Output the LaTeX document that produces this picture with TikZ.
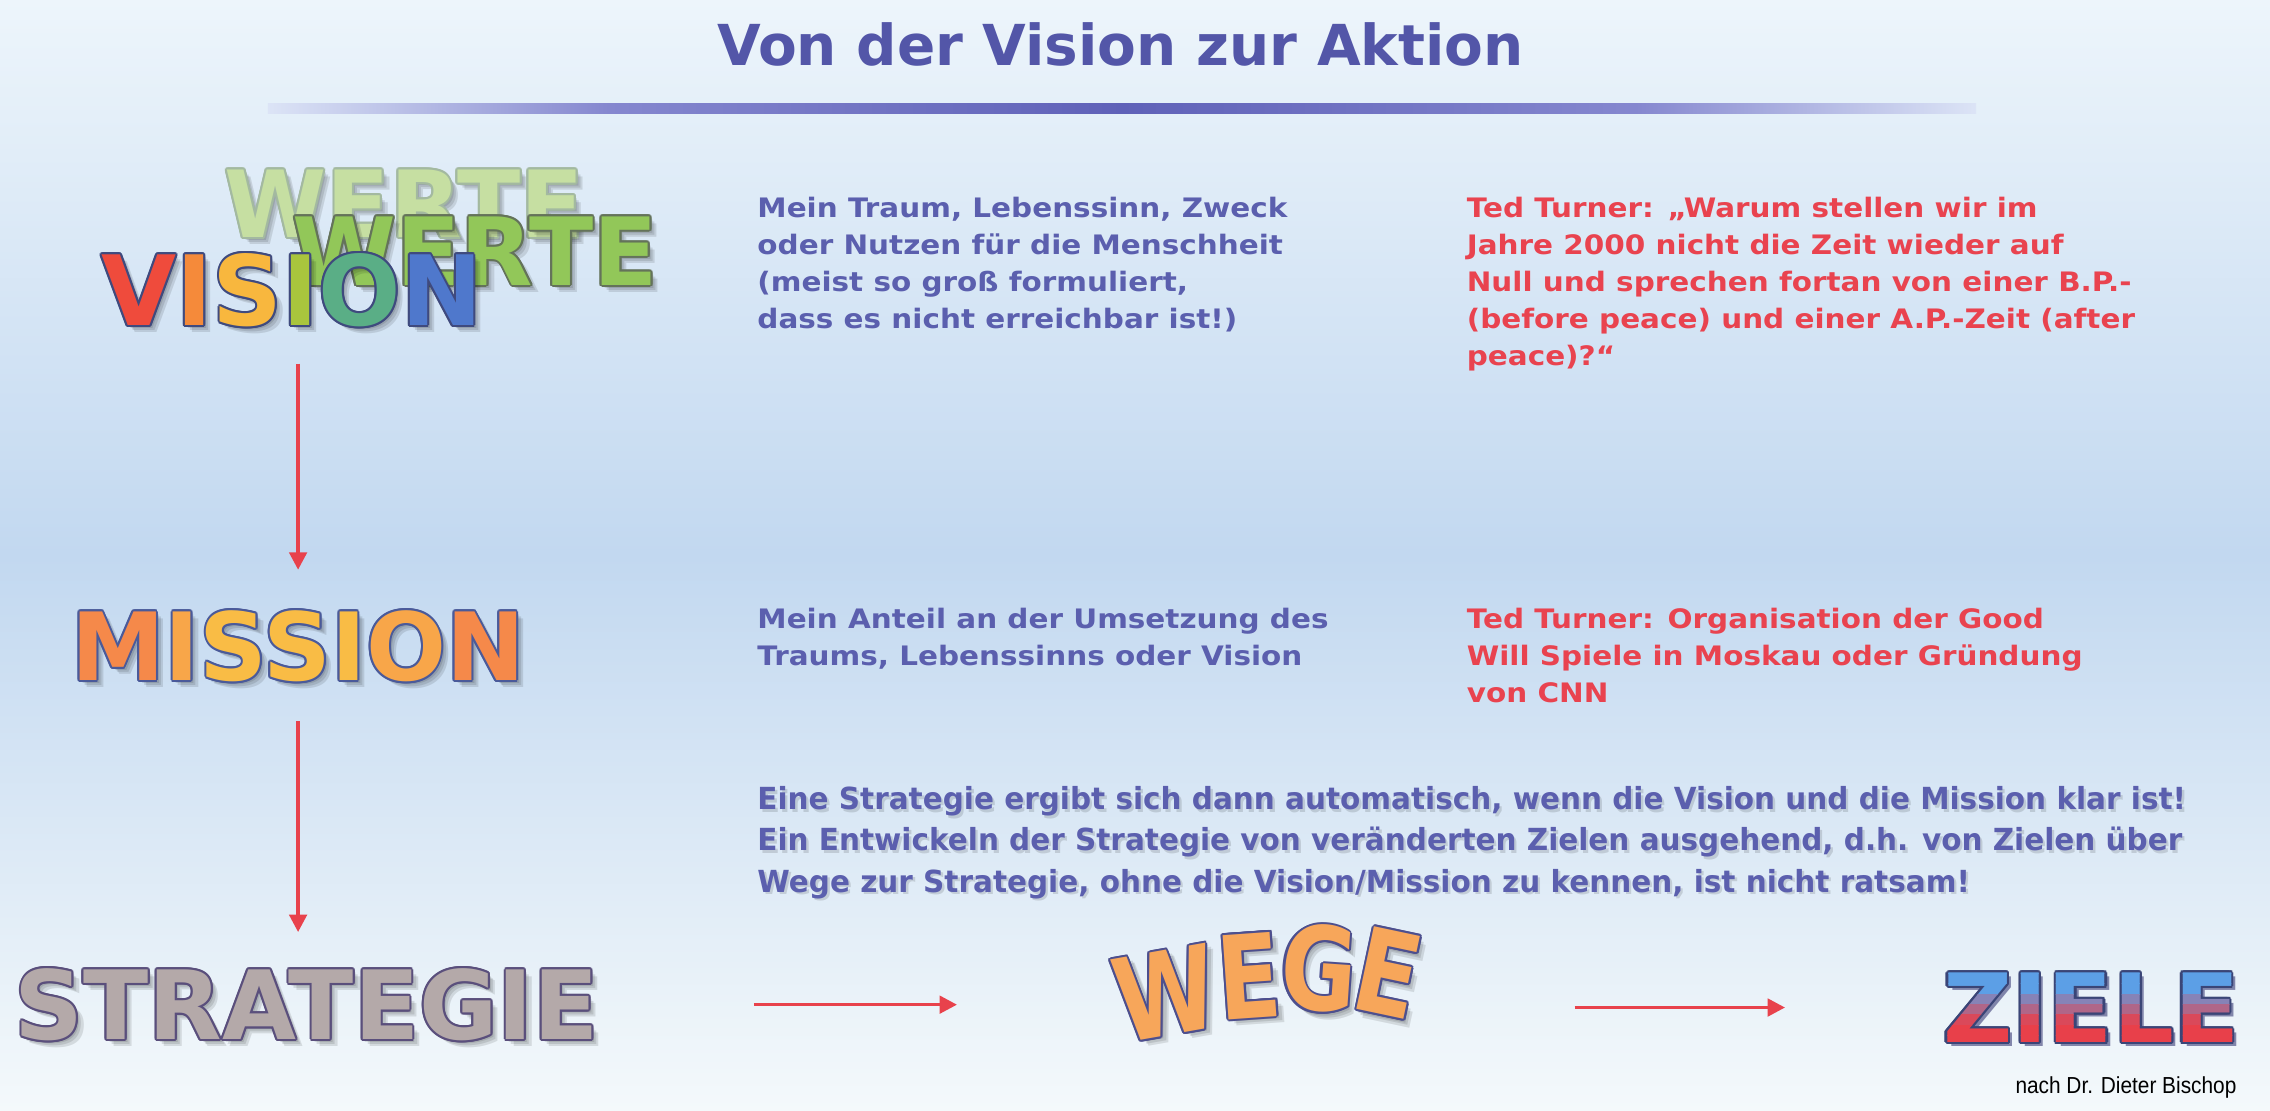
\documentclass[tikz,border=0pt]{standalone}
\usepackage{fontspec}
\setmainfont{DejaVu Sans}
\newfontfamily\verd{DejaVu Sans}
\newfontfamily\verdwide[FakeStretch=1.1]{DejaVu Sans}
\newfontfamily\verdcond[FakeStretch=0.97]{DejaVu Sans}
\newfontfamily\verdtall[FakeStretch=0.8]{DejaVu Sans}
\newfontfamily\arialn[FakeStretch=0.9]{Liberation Sans}
\usetikzlibrary{arrows.meta}

\definecolor{bgtop}{HTML}{EDF5FB}
\definecolor{bgmid}{HTML}{C2D8F0}
\definecolor{bgbot}{HTML}{F4F9FB}
\definecolor{titleblue}{HTML}{5356A8}
\definecolor{barblue}{HTML}{5F61B8}
\definecolor{barside}{HTML}{8587CF}
\definecolor{barfade}{HTML}{DCE4F6}
\definecolor{textblue}{HTML}{5B5FAE}
\definecolor{textred}{HTML}{E9434F}
\definecolor{arrowred}{HTML}{E8424C}
% letters
\definecolor{vV}{HTML}{EF4B3C}
\definecolor{vI}{HTML}{F58A3A}
\definecolor{vS}{HTML}{F8B73E}
\definecolor{vJ}{HTML}{A9C53D}
\definecolor{vO}{HTML}{5AAE86}
\definecolor{vN}{HTML}{4F78CC}
\definecolor{visline}{HTML}{3F4A7E}
\definecolor{wertelight}{HTML}{C6DFA2}
\definecolor{wertelightline}{HTML}{A3B9A0}
\definecolor{wertegreen}{HTML}{92C759}
\definecolor{werteline}{HTML}{64735A}
\definecolor{mOr}{HTML}{F5894A}
\definecolor{mOa}{HTML}{F8A649}
\definecolor{mYe}{HTML}{F9BC45}
\definecolor{misline}{HTML}{4A5A9A}
\definecolor{strfill}{HTML}{B4A9A9}
\definecolor{strline}{HTML}{5A4F7C}
\definecolor{wegefill}{HTML}{F7A65A}
\definecolor{wegeline}{HTML}{4D4F8E}
\definecolor{zblue}{HTML}{5C9FE6}
\definecolor{zred}{HTML}{E8404A}
\definecolor{zline}{HTML}{3A4577}

\newcommand\bigfont[1]{\verd\bfseries\fontsize{#1}{#1}\selectfont}
\newcommand\tallfont[1]{\verdtall\bfseries\fontsize{#1}{#1}\selectfont}
\newcommand\notefont{\verdcond\bfseries\fontsize{21}{28.5}\selectfont}

\tikzset{
  bigword/.style={inner sep=0pt, anchor=base west},
  wordshadow/.style={text=black, opacity=.11, xshift=#1pt, yshift=-#1pt},
  infotext/.style={inner sep=0pt, anchor=north west, align=left,
    font=\verdwide\bfseries\fontsize{18.5}{25.5}\selectfont},
  redarrow/.style={-{Triangle[length=12pt,width=12pt]}, line width=2.5pt, draw=arrowred},
}

% soft shadow, outline ring, fill
\newcommand{\bigword}[6]{%
  \foreach \s in {2,3.5,5}
    \node[bigword, font=#3, wordshadow=\s] at (#2) {#5};
  \foreach \a in {0,30,...,330}
    \node[bigword, font=#3, text=#4, xshift={1.4*cos(\a)}, yshift={1.4*sin(\a)}] at (#2) {#5};
  \node[bigword, font=#3] (#1) at (#2) {#6};
}

\begin{document}
\begin{tikzpicture}[x=1pt, y=-1pt]
  \useasboundingbox (0,0) rectangle (1568,767.4);
  % background
  \fill[top color=bgtop, bottom color=bgbot, middle color=bgmid] (0,0) rectangle (1568,767.4);
  %
  % title and bar
  \node[font=\bigfont{39}, text=titleblue, anchor=base, inner sep=0pt] (title) at (774,45) {Von der Vision zur Aktion};
  \fill[left color=barfade, right color=barside] (185,71.5) rectangle (420,78.5);
  \fill[left color=barside, right color=barside, middle color=barblue] (420,71.5) rectangle (1130,78.5);
  \fill[left color=barside, right color=barfade] (1130,71.5) rectangle (1365,78.5);
  %
  % WERTE / VISION
  \bigword{werteback}{155,164}{\bigfont{64}}{wertelightline}{WERTE}{\textcolor{wertelight}{WERTE}}
  \bigword{werte}{202,197}{\bigfont{65}}{werteline}{WERTE}{\textcolor{wertegreen}{WERTE}}
  \bigword{vision}{70,225}{\bigfont{67}}{visline}{VISION}%
    {\textcolor{vV}{V}\textcolor{vI}{I}\textcolor{vS}{S}\textcolor{vJ}{I}\textcolor{vO}{O}\textcolor{vN}{N}}
  %
  % MISSION
  \bigword{mission}{49,470}{\bigfont{65}}{misline}{MISSION}%
    {\textcolor{mOr}{M}\textcolor{mOa}{I}\textcolor{mYe}{SSI}\textcolor{mOa}{O}\textcolor{mOr}{N}}
  %
  % STRATEGIE
  \bigword{strategie}{10,718}{\bigfont{66}}{strline}{STRATEGIE}{\textcolor{strfill}{STRATEGIE}}
  %
  % WEGE
  \foreach \l/\px/\py/\r/\n in {W/805/686/10/wegeW, E/863/674/4/wegeA, G/911/669/-4/wegeB, E/959/672/-12/wegeE}{
    \foreach \s in {2,3.5,5}
      \node[font=\tallfont{80}, inner sep=0pt, rotate=\r, wordshadow=\s] at (\px,\py) {\l};
    \foreach \a in {0,30,...,330}
      \node[font=\tallfont{80}, inner sep=0pt, rotate=\r, text=wegeline, xshift={1.4*cos(\a)}, yshift={1.4*sin(\a)}] at (\px,\py) {\l};
    \node[font=\tallfont{80}, inner sep=0pt, rotate=\r, text=wegefill] (\n) at (\px,\py) {\l};
  }
  %
  % ZIELE
  \node[bigword, font=\bigfont{66}, text=black!70!blue, opacity=.45, xshift=3pt, yshift=-3pt] at (1342,720) {ZIELE};
  \foreach \a in {0,30,...,330}
    \node[bigword, font=\bigfont{66}, text=zline, xshift={1.5*cos(\a)}, yshift={1.5*sin(\a)}] at (1342,720) {ZIELE};
  \foreach \i in {0,...,7}{
    \pgfmathtruncatemacro\p{min(100,max(0,(\i-2)*30))}
    \begin{scope}
      \clip (1330,{665+\i*7.2}) rectangle (1560,{665+(\i+1)*7.2});
      \node[bigword, font=\bigfont{66}, text=zred!\p!zblue] at (1342,720) {ZIELE};
    \end{scope}
  }
  \node[bigword, font=\bigfont{66}, text opacity=0] (ziele) at (1342,720) {ZIELE};
  %
  % texts
  \node[infotext, text=textblue] (traum) at (523,136) {Mein Traum, Lebenssinn, Zweck\\oder Nutzen für die Menschheit\\(meist so groß formuliert,\\dass es nicht erreichbar ist!)};
  \node[infotext, text=textred] (turner1) at (1013,136) {Ted Turner: „Warum stellen wir im\\Jahre 2000 nicht die Zeit wieder auf\\Null und sprechen fortan von einer B.P.-\\(before peace) und einer A.P.-Zeit (after\\peace)?“};
  \node[infotext, text=textblue] (anteil) at (523,420) {Mein Anteil an der Umsetzung des\\Traums, Lebenssinns oder Vision};
  \node[infotext, text=textred] (turner2) at (1013,420) {Ted Turner: Organisation der Good\\Will Spiele in Moskau oder Gründung\\von CNN};
  \node[infotext, font=\notefont, text=black, opacity=.13, xshift=1.6pt, yshift=-1.8pt] at (523,543) {Eine Strategie ergibt sich dann automatisch, wenn die Vision und die Mission klar ist!\\Ein Entwickeln der Strategie von veränderten Zielen ausgehend, d.h. von Zielen über\\Wege zur Strategie, ohne die Vision/Mission zu kennen, ist nicht ratsam!};
  \node[infotext, font=\notefont, text=textblue] (hinweis) at (523,543) {Eine Strategie ergibt sich dann automatisch, wenn die Vision und die Mission klar ist!\\Ein Entwickeln der Strategie von veränderten Zielen ausgehend, d.h. von Zielen über\\Wege zur Strategie, ohne die Vision/Mission zu kennen, ist nicht ratsam!};
  \node[font=\arialn\fontsize{16}{16}\selectfont, anchor=base east, inner sep=0pt] (credit) at (1545,755) {nach Dr. Dieter Bischop};
  %
  % arrows
  \draw[redarrow, shorten <=25pt, shorten >=28pt] (vision.south -| mission.north) -- (mission.north);
  \draw[redarrow, shorten <=27pt, shorten >=25pt] (mission.south) -- (mission.south |- strategie.north);
  \draw[redarrow, shorten <=107pt, shorten >=109pt] (strategie.east) -- (strategie.east -| wegeW.west);
  \draw[redarrow, shorten <=107pt, shorten >=109pt] (ziele.west -| wegeE.east) -- (ziele.west);
\end{tikzpicture}
\end{document}
